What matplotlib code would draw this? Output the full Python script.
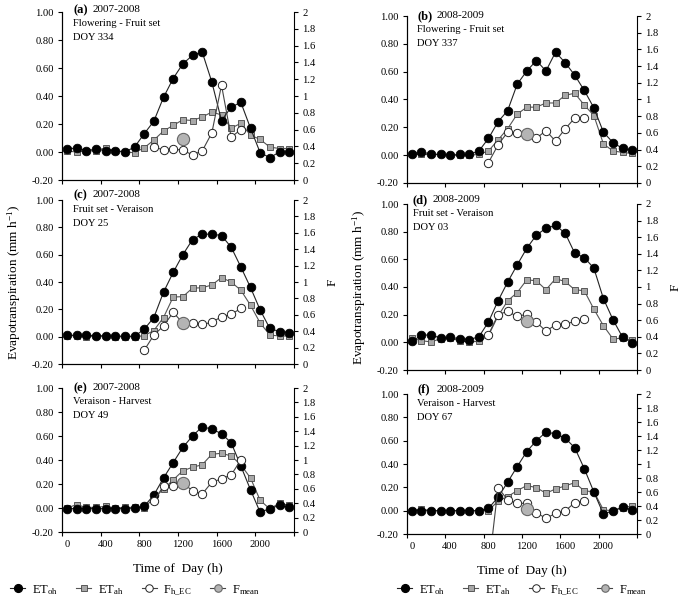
import numpy as np
import matplotlib
matplotlib.use("Agg")
import matplotlib.pyplot as plt
from matplotlib.lines import Line2D

plt.rcParams['font.family'] = ['Liberation Serif', 'DejaVu Serif']
plt.rcParams['mathtext.fontset'] = 'custom'
plt.rcParams['mathtext.rm'] = 'Liberation Serif'
plt.rcParams['mathtext.it'] = 'Liberation Serif:italic'
plt.rcParams['mathtext.bf'] = 'Liberation Serif:bold'

nan = np.nan
times = [0, 100, 200, 300, 400, 500, 600, 700, 800, 900, 1000, 1100,
         1200, 1300, 1400, 1500, 1600, 1700, 1800, 1900, 2000, 2100, 2200, 2300]

# Panel (a) 2007-2008 Flowering - Fruit set DOY 334
et_oh_a = [0.02, 0.03, 0.01, 0.02, 0.01, 0.01, 0.00, 0.035, 0.13, 0.22, 0.39, 0.525,
           0.63, 0.69, 0.715, 0.50, 0.225, 0.32, 0.355, 0.17, -0.005, -0.04, 0.00, 0.00]
et_ah_a = [0.007, 0.00, 0.007, 0.01, 0.03, 0.007, 0.00, -0.005, 0.03, 0.085, 0.15, 0.19,
           0.23, 0.225, 0.25, 0.285, 0.265, 0.17, 0.205, 0.12, 0.09, 0.035, 0.025, 0.025]
f_ec_a = [nan, nan, nan, nan, nan, nan, nan, nan, nan, 0.39, 0.36, 0.37,
          0.353, 0.30, 0.345, 0.56, 1.13, 0.51, 0.60, nan, nan, nan, nan, nan]
f_mean_a = 0.49

# Panel (b) 2008-2009 Flowering - Fruit set DOY 337
et_oh_b = [0.007, 0.024, 0.007, 0.005, 0.0, 0.005, 0.005, 0.03, 0.12, 0.24, 0.32, 0.51,
           0.605, 0.68, 0.605, 0.74, 0.665, 0.575, 0.465, 0.34, 0.165, 0.09, 0.048, 0.036]
et_ah_b = [0.005, 0.005, 0.005, 0.005, 0.0, 0.0, 0.0, 0.005, 0.03, 0.11, 0.19, 0.295,
           0.345, 0.345, 0.375, 0.375, 0.43, 0.445, 0.36, 0.285, 0.08, 0.03, 0.02, 0.012]
f_ec_b = [nan, nan, nan, nan, nan, nan, nan, nan, 0.245, 0.455, 0.61, 0.595,
          0.575, 0.535, 0.628, 0.50, 0.648, 0.777, 0.777, nan, nan, nan, nan, nan]
f_mean_b = 0.583

# Panel (c) 2007-2008 Fruit set - Veraison DOY 25
et_oh_c = [0.01, 0.01, 0.01, 0.008, 0.005, 0.005, 0.003, 0.003, 0.054, 0.14, 0.325, 0.47,
           0.60, 0.71, 0.75, 0.75, 0.74, 0.655, 0.51, 0.36, 0.195, 0.06, 0.037, 0.03]
et_ah_c = [0.008, 0.008, 0.0, 0.005, 0.003, 0.0, 0.0, 0.0, 0.007, 0.045, 0.14, 0.29,
           0.293, 0.355, 0.358, 0.378, 0.432, 0.40, 0.34, 0.23, 0.10, 0.012, 0.005, 0.005]
f_ec_c = [nan, nan, nan, nan, nan, nan, nan, nan, 0.167, 0.353, 0.463, 0.63,
          0.50, 0.50, 0.483, 0.508, 0.577, 0.605, 0.678, nan, nan, nan, nan, nan]
f_mean_c = 0.50

# Panel (d) 2008-2009 Fruit set - Veraison DOY 03
et_oh_d = [0.007, 0.05, 0.055, 0.03, 0.036, 0.026, 0.02, 0.04, 0.147, 0.30, 0.435, 0.56,
           0.68, 0.775, 0.825, 0.845, 0.79, 0.645, 0.613, 0.536, 0.315, 0.163, 0.036, -0.005]
et_ah_d = [0.03, 0.012, 0.003, 0.026, 0.03, 0.012, 0.003, 0.007, 0.05, 0.19, 0.30, 0.36,
           0.452, 0.445, 0.38, 0.46, 0.44, 0.38, 0.373, 0.24, 0.12, 0.024, 0.031, 0.014]
f_ec_d = [nan, nan, nan, nan, nan, nan, nan, nan, 0.425, 0.667, 0.707, 0.645,
          0.673, 0.578, 0.467, 0.545, 0.553, 0.585, 0.613, nan, nan, nan, nan, nan]
f_mean_d = 0.585

# Panel (e) 2007-2008 Veraison - Harvest DOY 49
et_oh_e = [-0.005, -0.005, -0.005, -0.005, -0.005, -0.005, -0.005, 0.0, 0.014, 0.108, 0.25, 0.378,
           0.505, 0.60, 0.677, 0.657, 0.62, 0.544, 0.35, 0.152, -0.036, -0.005, 0.022, 0.005]
et_ah_e = [0.0, 0.028, 0.005, 0.005, 0.014, 0.0, 0.005, 0.005, 0.0, 0.083, 0.157, 0.235,
           0.31, 0.34, 0.36, 0.448, 0.456, 0.434, 0.36, 0.25, 0.064, -0.008, 0.041, 0.022]
f_ec_e = [nan, nan, nan, nan, nan, nan, nan, nan, nan, 0.425, 0.642, 0.633,
          0.68, 0.573, 0.527, 0.692, 0.738, 0.793, 1.0, nan, nan, nan, nan, nan]
f_mean_e = 0.678

# Panel (f) 2008-2009 Veraison - Harvest DOY 67
et_oh_f = [0.0, 0.0, 0.0, 0.0, 0.0, 0.0, 0.0, 0.0, 0.02, 0.115, 0.244, 0.378,
           0.507, 0.60, 0.673, 0.659, 0.622, 0.54, 0.36, 0.16, -0.03, 0.0, 0.029, 0.006]
et_ah_f = [-0.003, 0.014, 0.0, 0.0, 0.0, 0.0, 0.0, 0.0, 0.0, 0.083, 0.12, 0.172,
           0.215, 0.198, 0.149, 0.186, 0.212, 0.24, 0.169, 0.163, 0.006, 0.0, 0.026, 0.04]
f_ec_f = [nan, nan, nan, nan, nan, nan, nan, nan, -0.52, 0.663, 0.487, 0.438,
          0.438, 0.305, 0.223, 0.295, 0.328, 0.448, 0.477, nan, nan, nan, nan, nan]
f_mean_f = 0.352
f_mean_time = 1200

panel_letters = ['(a)', '(b)', '(c)', '(d)', '(e)', '(f)']
seasons = ['2007-2008', '2008-2009', '2007-2008', '2008-2009', '2007-2008', '2008-2009']
stages = ['Flowering - Fruit set', 'Flowering - Fruit set', 'Fruit set - Veraison',
          'Fruit set - Veraison', 'Veraison - Harvest', 'Veraison - Harvest']
doys = ['DOY 334', 'DOY 337', 'DOY 25', 'DOY 03', 'DOY 49', 'DOY 67']

x_labels = [0, 400, 800, 1200, 1600, 2000]
et_ticks = [-0.2, 0.0, 0.2, 0.4, 0.6, 0.8, 1.0]
f_ticks = [0, 0.2, 0.4, 0.6, 0.8, 1, 1.2, 1.4, 1.6, 1.8, 2]
legend_labels = ['ET$_{\\mathrm{oh}}$', 'ET$_{\\mathrm{ah}}$',
                 'F$_{\\mathrm{h\\_EC}}$', 'F$_{\\mathrm{mean}}$']

panels = [
    (et_oh_a, et_ah_a, f_ec_a, f_mean_a),
    (et_oh_b, et_ah_b, f_ec_b, f_mean_b),
    (et_oh_c, et_ah_c, f_ec_c, f_mean_c),
    (et_oh_d, et_ah_d, f_ec_d, f_mean_d),
    (et_oh_e, et_ah_e, f_ec_e, f_mean_e),
    (et_oh_f, et_ah_f, f_ec_f, f_mean_f),
]

W, H = 685, 601
fig = plt.figure(figsize=(W / 100, H / 100), dpi=100)

# axes boxes in pixels: left, right, top, bottom
boxes = [
    (62, 294, 12, 180),
    (407, 637, 16, 183),
    (62, 294, 200, 364),
    (407, 637, 204, 370),
    (62, 294, 388, 532),
    (407, 637, 394, 534),
]
# text anchor (x, y of first line) in pixels
text_pos = [
    (73, 10), (417, 16), (73, 195), (413, 200), (73, 388), (417, 389)
]

FS = 7.6
line_col = '#222222'
sq_col = '#a8a8a8'
mean_col = '#b4b4b4'

for i, (et_oh, et_ah, f_ec, f_mean) in enumerate(panels):
    l, r, t, b = boxes[i]
    ax = fig.add_axes([l / W, (H - b) / H, (r - l) / W, (b - t) / H])
    ax2 = ax.twinx()
    ax.set_xlim(-50, 2350)
    ax.set_ylim(-0.2, 1.0)
    ax2.set_ylim(0, 2)

    ax.plot(times, et_ah, '-', color='#555555', lw=0.8, marker='s', ms=4.6,
            mfc=sq_col, mec='#444444', mew=0.6, zorder=3)
    ax.plot(times, et_oh, '-', color=line_col, lw=0.8, marker='o', ms=6.2,
            mfc='black', mec='black', mew=0.6, zorder=4)
    ax2.plot(times, f_ec, '-', color='#444444', lw=0.8, marker='o', ms=6.0,
             mfc='white', mec='#222222', mew=0.7, zorder=3)
    ax2.plot([f_mean_time], [f_mean], 'o', ms=8.8, mfc=mean_col, mec='#666666',
             mew=0.8, zorder=4)

    for a in (ax, ax2):
        a.spines['top'].set_visible(False)
        for s in a.spines.values():
            s.set_linewidth(0.8)
    ax.spines['right'].set_visible(False)

    ax.set_yticks(et_ticks)
    ax.set_yticklabels(['%.2f' % v for v in et_ticks], fontsize=FS)
    ax2.set_yticks(f_ticks)
    ax2.set_yticklabels(['%g' % v for v in f_ticks], fontsize=FS)
    ax.tick_params(axis='y', direction='out', length=3, width=0.8, pad=3)
    ax2.tick_params(axis='y', direction='out', length=3, width=0.8, pad=3)

    ax.set_xticks([v - 50 for v in x_labels] + [2350])
    ax.set_xticklabels([])
    ax.tick_params(axis='x', which='major', direction='out', length=3, width=0.8)
    if i >= 4:
        ax.set_xticks(x_labels, minor=True)
        ax.set_xticklabels([str(v) for v in x_labels], minor=True, fontsize=FS)
        ax.tick_params(axis='x', which='minor', length=0, pad=6)
        ax.set_xlabel('Time of  Day (h)', fontsize=9.5, labelpad=10)
    if i in (2, 3):
        ax.set_ylabel('Evapotranspiration (mm h$^{\\mathrm{-1}}$)', fontsize=9.5, labelpad=6)
        ax2.set_ylabel('F', fontsize=9.5, labelpad=8)

    tx, ty = text_pos[i]
    fig.text(tx / W, 1 - ty / H, panel_letters[i], fontsize=9, fontweight='bold',
             va='center', ha='left')
    fig.text((tx + 20) / W, 1 - ty / H, seasons[i], fontsize=8, va='center', ha='left')
    fig.text(tx / W, 1 - (ty + 14) / H, stages[i], fontsize=FS, va='center', ha='left')
    fig.text(tx / W, 1 - (ty + 28) / H, doys[i], fontsize=FS, va='center', ha='left')

handles = [
    Line2D([], [], color=line_col, lw=0.8, marker='o', ms=5.6, mfc='black', mec='black'),
    Line2D([], [], color='#555555', lw=0.8, marker='s', ms=4.2, mfc=sq_col, mec='#444444', mew=0.6),
    Line2D([], [], color='#444444', lw=0.8, marker='o', ms=5.4, mfc='white', mec='#222222', mew=0.7),
    Line2D([], [], color='#444444', lw=0.8, marker='o', ms=5.4, mfc=mean_col, mec='#666666', mew=0.8),
]
for cx in (135, 522):
    fig.legend(handles, legend_labels, loc='center', bbox_to_anchor=(cx / W, 1 - 590 / H),
               ncol=4, frameon=False, fontsize=9, handlelength=1.2, handletextpad=0.5,
               columnspacing=1.5, borderaxespad=0)

fig.savefig('out.png', dpi=100)
